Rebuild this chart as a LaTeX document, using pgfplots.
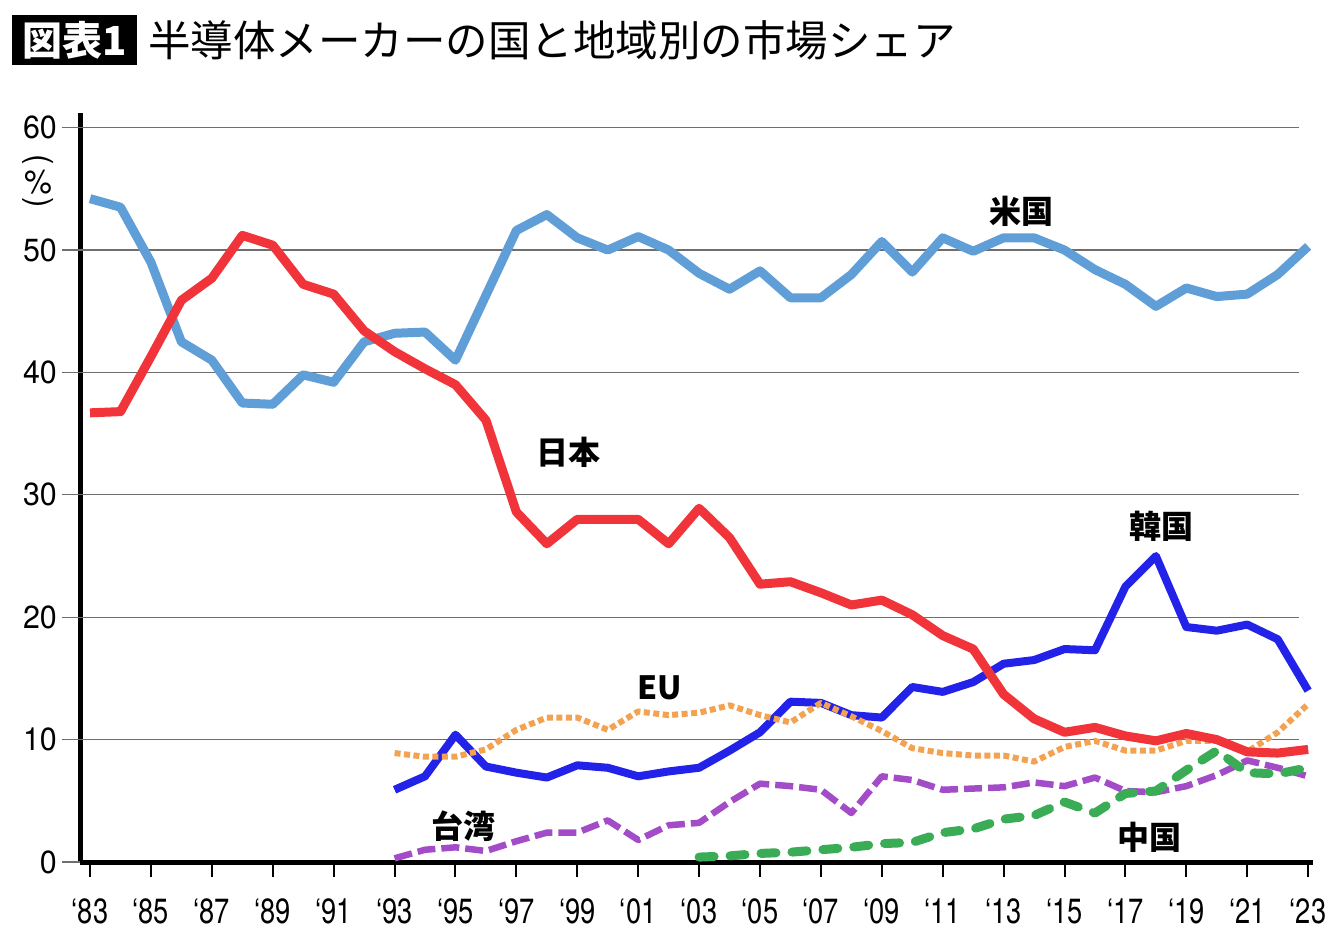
\documentclass[border=0pt]{standalone}
\usepackage{fontspec}
\usepackage{graphicx}
\usepackage{pgfplots}
\pgfplotsset{compat=1.18}
\setmainfont{Noto Sans CJK JP}
\newfontfamily\numfont{TeX Gyre Heros}[FakeStretch=0.78]
\newfontfamily\ynumfont{TeX Gyre Heros}[FakeStretch=0.95]
\definecolor{usblue}{RGB}{95,158,214}
\definecolor{jpred}{RGB}{240,52,58}
\definecolor{krblue}{RGB}{34,34,232}
\definecolor{euorange}{RGB}{242,162,80}
\definecolor{twpurple}{RGB}{163,76,200}
\definecolor{cngreen}{RGB}{58,172,85}
\definecolor{gridc}{RGB}{110,110,110}
\begin{document}
\begin{tikzpicture}[x=1pt,y=1pt]
\useasboundingbox (0,0) rectangle (1340,950);
\node[fill=black,text=white,anchor=west,minimum height=50pt,inner xsep=10pt,inner ysep=0pt,font=\fontsize{40}{40}\selectfont\bfseries] at (12,910) {図表1};
\node[anchor=west,inner sep=0pt,font=\fontsize{42.5}{42.5}\selectfont] at (148,910) {半導体メーカーの国と地域別の市場シェア};
\node[inner sep=0pt,font=\ynumfont\fontsize{33}{33}\selectfont] at (38,789) {\rotatebox[origin=c]{-90}{(}};
\node[inner sep=0pt,font=\ynumfont\fontsize{33}{33}\selectfont] at (38,768) {\%};
\node[inner sep=0pt,font=\ynumfont\fontsize{33}{33}\selectfont] at (38,746) {\rotatebox[origin=c]{-90}{)}};
\begin{axis}[
  at={(80pt,88pt)}, anchor=south west,
  scale only axis, width=1233pt, height=749pt,
  xmin=1982.67, xmax=2023.16, ymin=0, ymax=61.2,
  axis x line*=bottom, axis y line*=left,
  axis line style={line width=5pt, black, -},
  xtick={1983,1985,...,2023},
  xticklabels={‘83,‘85,‘87,‘89,‘91,‘93,‘95,‘97,‘99,‘01,‘03,‘05,‘07,‘09,‘11,‘13,‘15,‘17,‘19,‘21,‘23},
  ytick={0,10,...,60},
  ytick style={draw=none},
  xtick style={black, line width=2pt},
  tick align=outside, major tick length=15pt,
  xticklabel style={font=\numfont\fontsize{35}{35}\selectfont, anchor=north, inner sep=0pt, yshift=-21pt},
  yticklabel style={font=\ynumfont\fontsize{32}{32}\selectfont, anchor=east, inner sep=0pt, xshift=-8pt},
  /pgf/number format/assume math mode=true,
  clip=false,
  every axis plot/.append style={mark=none, line join=round},
]
\pgfplotsinvokeforeach{10,20,30,40,50,60}{\draw[gridc, line width=1.3pt] (axis cs:1982.08,#1) -- (axis cs:2022.7,#1);}
\draw[gridc, line width=1.3pt] (axis cs:1982.08,0) -- (axis cs:1982.67,0);

\addplot[usblue, line width=9pt] coordinates {
(1983,54.2)(1984,53.5)(1985,49.0)(1986,42.5)(1987,41.0)(1988,37.5)(1989,37.4)(1990,39.8)(1991,39.2)(1992,42.5)
(1993,43.2)(1994,43.3)(1995,41.0)(1996,46.3)(1997,51.6)(1998,52.9)(1999,51.0)(2000,50.0)(2001,51.1)(2002,50.0)
(2003,48.1)(2004,46.8)(2005,48.3)(2006,46.1)(2007,46.1)(2008,48.0)(2009,50.7)(2010,48.2)(2011,51.0)(2012,49.9)
(2013,51.0)(2014,51.0)(2015,50.0)(2016,48.4)(2017,47.2)(2018,45.4)(2019,46.9)(2020,46.2)(2021,46.4)(2022,48.0)(2023,50.3)};

\addplot[krblue, line width=8pt] coordinates {
(1993,5.9)(1994,7.0)(1995,10.4)(1996,7.8)(1997,7.3)(1998,6.9)(1999,7.9)(2000,7.7)(2001,7.0)(2002,7.4)
(2003,7.7)(2004,9.1)(2005,10.6)(2006,13.1)(2007,13.0)(2008,12.0)(2009,11.8)(2010,14.3)(2011,13.9)(2012,14.7)
(2013,16.2)(2014,16.5)(2015,17.4)(2016,17.3)(2017,22.5)(2018,25.0)(2019,19.2)(2020,18.9)(2021,19.4)(2022,18.2)(2023,14.0)};

\addplot[euorange, line width=6pt, dash pattern=on 6pt off 3.5pt] coordinates {
(1993,8.9)(1994,8.6)(1995,8.6)(1996,9.2)(1997,10.8)(1998,11.8)(1999,11.8)(2000,10.8)(2001,12.3)(2002,12.0)
(2003,12.2)(2004,12.8)(2005,12.0)(2006,11.4)(2007,13.0)(2008,11.9)(2009,10.7)(2010,9.3)(2011,8.9)(2012,8.7)
(2013,8.7)(2014,8.2)(2015,9.4)(2016,9.9)(2017,9.1)(2018,9.1)(2019,9.9)(2020,9.9)(2021,9.0)(2022,10.6)(2023,12.9)};

\addplot[jpred, line width=9pt] coordinates {
(1983,36.7)(1984,36.8)(1985,41.3)(1986,45.9)(1987,47.7)(1988,51.2)(1989,50.4)(1990,47.2)(1991,46.4)(1992,43.4)
(1993,41.7)(1994,40.3)(1995,39.0)(1996,36.1)(1997,28.6)(1998,26.0)(1999,28.0)(2000,28.0)(2001,28.0)(2002,26.0)
(2003,28.9)(2004,26.5)(2005,22.7)(2006,22.9)(2007,22.0)(2008,21.0)(2009,21.4)(2010,20.2)(2011,18.5)(2012,17.4)
(2013,13.7)(2014,11.7)(2015,10.6)(2016,11.0)(2017,10.3)(2018,9.9)(2019,10.5)(2020,10.0)(2021,9.0)(2022,8.9)(2023,9.2)};

\addplot[twpurple, line width=6.5pt, dash pattern=on 18pt off 6pt] coordinates {
(1993,0.3)(1994,1.0)(1995,1.2)(1996,0.9)(1997,1.7)(1998,2.4)(1999,2.4)(2000,3.4)(2001,1.8)(2002,3.0)
(2003,3.2)(2004,4.9)(2005,6.4)(2006,6.2)(2007,5.9)(2008,4.0)(2009,7.0)(2010,6.7)(2011,5.9)(2012,6.0)
(2013,6.1)(2014,6.5)(2015,6.2)(2016,6.9)(2017,5.8)(2018,5.7)(2019,6.2)(2020,7.1)(2021,8.3)(2022,7.7)(2023,7.0)};

\addplot[cngreen, line width=9pt, line cap=round, dash pattern=on 15pt off 16pt] coordinates {
(2003,0.4)(2004,0.5)(2005,0.7)(2006,0.8)(2007,1.0)(2008,1.2)(2009,1.5)(2010,1.6)(2011,2.4)(2012,2.7)
(2013,3.5)(2014,3.8)(2015,4.9)(2016,4.0)(2017,5.6)(2018,5.8)(2019,7.5)(2020,9.1)(2021,7.3)(2022,7.2)(2023,7.7)};

\begin{scope}[font=\fontsize{32}{32}\selectfont\bfseries]
\node at (axis cs:2013.6,53.2) {米国};
\node at (axis cs:1998.7,33.5) {日本};
\node at (axis cs:2018.2,27.4) {韓国};
\node at (axis cs:2001.7,14.2) {EU};
\node at (axis cs:1995.25,2.9) {台湾};
\node at (axis cs:2017.8,2.0) {中国};
\end{scope}
\end{axis}
\end{tikzpicture}
\end{document}
